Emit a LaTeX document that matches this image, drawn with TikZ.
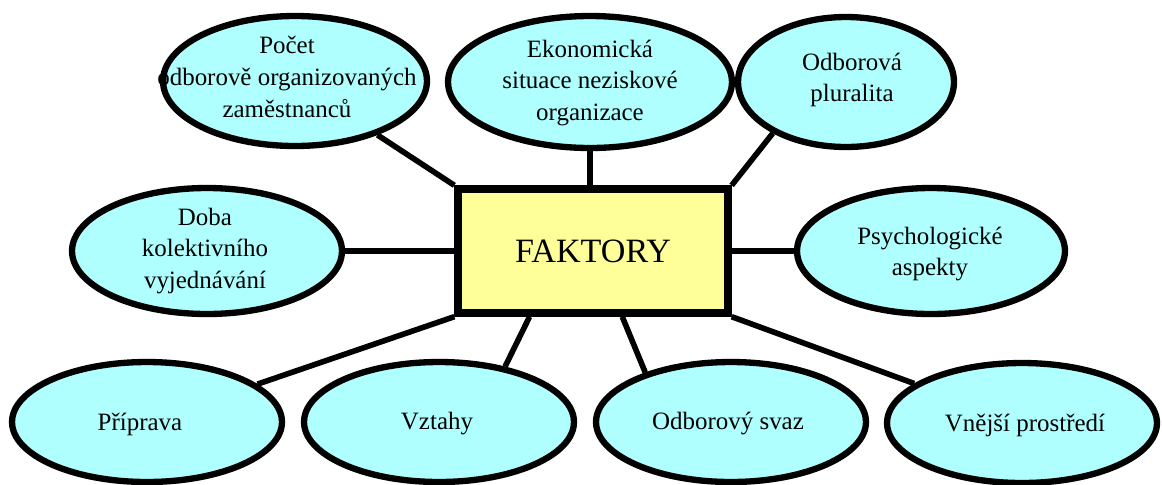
\documentclass[tikz,border=0pt]{standalone}
\usepackage{fontspec}
\setmainfont{Liberation Serif}
\usetikzlibrary{shapes.geometric}
\definecolor{bubblecyan}{RGB}{175,255,255}
\definecolor{boxyellow}{RGB}{255,255,153}

\begin{document}
\begin{tikzpicture}[x=0.02cm,y=-0.02cm,
  bubble/.style={ellipse,draw,line width=3.6pt,fill=bubblecyan,inner sep=0pt},
  bubbletext/.style={font=\fontsize{14.2}{18}\selectfont,align=center,inner sep=0pt},
  link/.style={line width=3.2pt}]
  \useasboundingbox (0,0) rectangle (1162,484);

  % centre box
  \node[draw,line width=4.2pt,fill=boxyellow,minimum width=5.4cm,minimum height=2.48cm,
        font=\fontsize{19.4}{23}\selectfont] (faktory) at (593,251) {FAKTORY};

  % top row
  \node[bubble,minimum width=5.28cm,minimum height=2.6cm] (pocet) at (295,81) {};
  \node[bubbletext] (pocet-txt) at (287,77) {Počet\\odborově organizovaných\\zaměstnanců};
  \node[bubble,minimum width=5.68cm,minimum height=2.64cm] (ekon) at (590,82) {};
  \node[bubbletext] (ekon-txt) at (590,83) {Ekonomická\\situace neziskové\\organizace};
  \node[bubble,minimum width=4.32cm,minimum height=2.6cm] (odbor) at (846,82) {};
  \node[bubbletext] (odbor-txt) at (852,80) {Odborová\\pluralita};

  % middle row
  \node[bubble,minimum width=5.4cm,minimum height=2.52cm] (doba) at (207,251) {};
  \node[bubbletext] (doba-txt) at (205,251) {Doba\\kolektivního\\vyjednávání};
  \node[bubble,minimum width=5.36cm,minimum height=2.52cm] (psych) at (931,251) {};
  \node[bubbletext] (psych-txt) at (930,254) {Psychologické\\aspekty};

  % bottom row
  \node[bubble,minimum width=5.4cm,minimum height=2.4cm] (priprava) at (147,422) {};
  \node[bubbletext] (priprava-txt) at (140,424) {Příprava};
  \node[bubble,minimum width=5.4cm,minimum height=2.4cm] (vztahy) at (439,422) {};
  \node[bubbletext] (vztahy-txt) at (437,424) {Vztahy};
  \node[bubble,minimum width=5.4cm,minimum height=2.4cm] (svaz) at (731,422) {};
  \node[bubbletext] (svaz-txt) at (728,424) {Odborový svaz};
  \node[bubble,minimum width=5.4cm,minimum height=2.4cm] (vnejsi) at (1022,423) {};
  \node[bubbletext] (vnejsi-txt) at (1025,425) {Vnější prostředí};

  % connectors
  \draw[link] (pocet) -- (faktory.north west);
  \draw[link] (ekon.south) -- (ekon.south |- faktory.north);
  \draw[link] (odbor.215) -- (faktory.north east);
  \draw[link] (doba) -- (faktory);
  \draw[link] (faktory) -- (psych);
  \draw[link] (priprava) -- (faktory.south west);
  \draw[link] (vztahy.40) -- (faktory.226);
  \draw[link] (svaz.150) -- (faktory.294);
  \draw[link] (vnejsi) -- (faktory.south east);
\end{tikzpicture}
\end{document}
